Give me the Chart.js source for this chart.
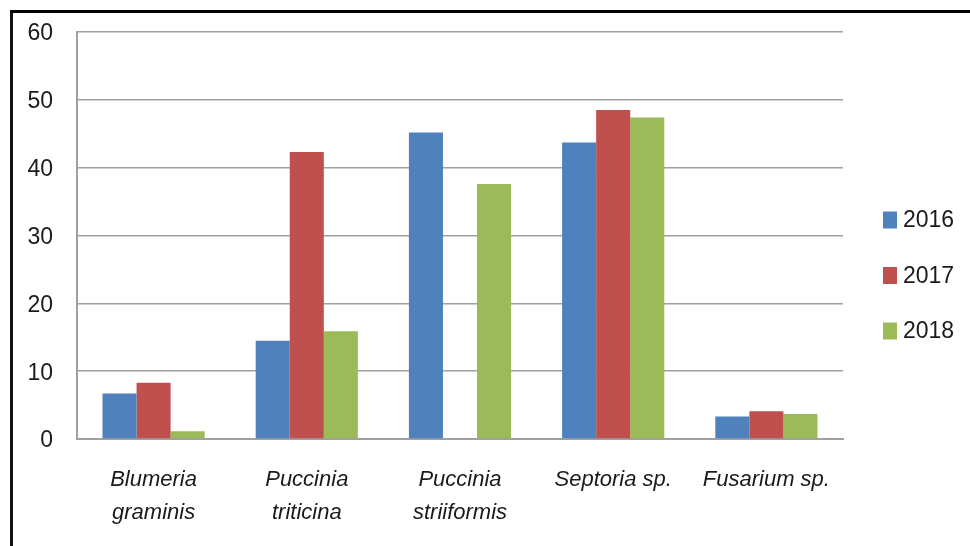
<!DOCTYPE html>
<html>
<head>
<meta charset="utf-8">
<script src="https://cdn.jsdelivr.net/npm/chart.js@4"></script>
<style>
  html, body { margin: 0; padding: 0; background: #fff; }
  .frame {
    position: absolute;
    left: 10px;
    top: 10px;
    width: 960px;
    height: 536px;
    border-top: 3px solid #000;
    border-left: 3px solid #111;
    box-sizing: border-box;
  }
  #chartBox { position: absolute; left: 0; top: 0; width: 970px; height: 546px; }
</style>
</head>
<body>
<div class="frame"></div>
<div id="chartBox"><canvas id="myChart" width="970" height="546"></canvas></div>
<script>
const categories = [
  ["Blumeria", "graminis"],
  ["Puccinia", "triticina"],
  ["Puccinia", "striiformis"],
  "Septoria sp.",
  "Fusarium sp.",
];
const years = ["2016", "2017", "2018"];
const values2016 = [6.7, 14.5, 45.2, 43.7, 3.3];
const values2017 = [8.3, 42.3, 0, 48.5, 4.1];
const values2018 = [1.15, 15.9, 37.6, 47.4, 3.7];
const colors = ["#4f81bd", "#c0504d", "#9bbb59"];
const yTicks = [0, 10, 20, 30, 40, 50, 60];

const FONT = "'Liberation Sans', Arial, sans-serif";

// simple legend on the right, one square + label per dataset
const sideLegend = {
  id: "sideLegend",
  afterDraw(chart) {
    const ctx = chart.ctx;
    const x = 883;
    const firstY = 220;
    const step = 55.5;
    ctx.save();
    ctx.font = "23px " + FONT;
    ctx.textBaseline = "middle";
    chart.data.datasets.forEach((ds, i) => {
      const cy = firstY + i * step;
      ctx.fillStyle = ds.backgroundColor;
      ctx.fillRect(x, cy - 8.5, 14, 17);
      ctx.fillStyle = "#1a1a1a";
      ctx.fillText(ds.label, x + 20, cy + 1);
    });
    ctx.restore();
  },
};

function initChart() {
  const ctx = document.getElementById("myChart").getContext("2d");
  const series = [values2016, values2017, values2018];

  return new Chart(ctx, {
    type: "bar",
    data: {
      labels: categories,
      datasets: years.map((year, i) => ({
        label: year,
        data: series[i],
        backgroundColor: colors[i],
        borderWidth: 0,
        categoryPercentage: 0.667,
        barPercentage: 1,
      })),
    },
    options: {
      responsive: false,
      animation: false,
      layout: {
        autoPadding: false,
        padding: { left: 3.4, right: 127, top: 32, bottom: 0 },
      },
      plugins: {
        legend: { display: false },
        tooltip: { enabled: false },
      },
      scales: {
        x: {
          // fixed band under the plot for the two-line names
          afterFit(scale) {
            scale.height = 107;
          },
          grid: { display: false, drawTicks: false },
          border: { display: true, color: "#a0a0a0", width: 2 },
          ticks: {
            padding: 24.5,
            color: "#1a1a1a",
            font: { family: FONT, size: 22, style: "italic", lineHeight: 1.5 },
            maxRotation: 0,
            autoSkip: false,
          },
        },
        y: {
          min: 0,
          max: 60,
          afterBuildTicks(axis) {
            axis.ticks = yTicks.map((v) => ({ value: v }));
          },
          grid: { color: "#a0a0a0", lineWidth: 1.6, drawTicks: false },
          border: { display: true, color: "#a0a0a0", width: 2 },
          ticks: {
            padding: 24,
            labelOffset: 2,
            color: "#1a1a1a",
            font: { family: FONT, size: 23, lineHeight: 0.6 },
          },
        },
      },
    },
    plugins: [sideLegend],
  });
}

initChart();
</script>
</body>
</html>
